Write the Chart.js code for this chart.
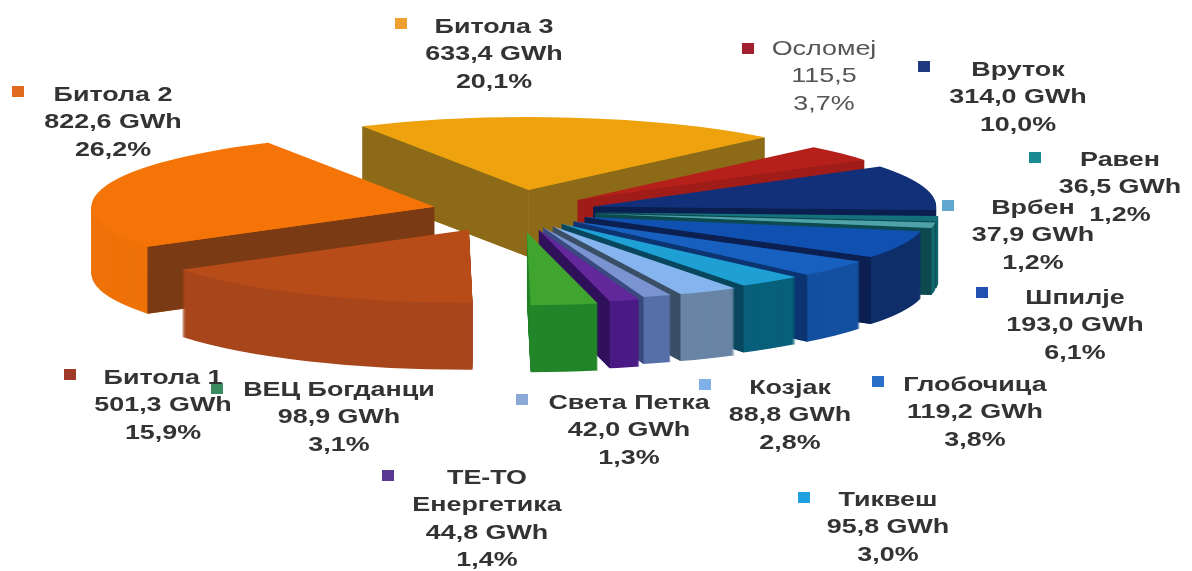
<!DOCTYPE html>
<html><head><meta charset="utf-8">
<style>html,body{margin:0;padding:0;background:#fff}#w{width:1192px;height:571px;position:relative}canvas{filter:blur(0.6px)}</style>
<script src="https://cdn.jsdelivr.net/npm/chart.js@4"></script>
</head><body><div id="w"><canvas id="c" width="1192" height="571"></canvas></div>
<script>
const plants = ["Битола 3","Осломеј","Вруток","Равен","Врбен","Шпилје","Глобочица","Тиквеш","Козјак","Света Петка","ТЕ-ТО Енергетика","ВЕЦ Богданци","Битола 1","Битола 2"];
const gwh = [633.4,115.5,314.0,36.5,37.9,193.0,119.2,95.8,88.8,42.0,44.8,98.9,501.3,822.6];
const valueLabels = ["633,4 GWh","115,5","314,0 GWh","36,5 GWh","37,9 GWh","193,0 GWh","119,2 GWh","95,8 GWh","88,8 GWh","42,0 GWh","44,8 GWh","98,9 GWh","501,3 GWh","822,6 GWh"];
const shares = ["20,1%","3,7%","10,0%","1,2%","1,2%","6,1%","3,8%","3,0%","2,8%","1,3%","1,4%","3,1%","15,9%","26,2%"];

// styling
const topColors  = ["#eea30e","#b5201a","#12307a","#14707c","#4fa3a8","#1050b0","#1760c0","#1fa0d4","#86b4ee","#7a94d2","#62279a","#3fa52e","#b84c18","#f57408"];
const wallColors = ["#b0851e","#7a1a18","#10306e","#12686e","#12686e","#0f2f6a","#1450a0","#08607a","#6a85a5","#5670a8","#4a1a85","#23852a","#a8461c","#ee7208"];
const cutColors  = ["#8d6a18","#a01c18","#0a1f50","#0c4a50","#0c4a50","#0b2050","#0c3470","#07465c","#3a4f66","#3a4a80","#30105a","#14581a","#8a3a14","#7a3a14"];
const markerColors = ["#f0a030","#a02030","#203a80","#1a8a90","#60a8d0","#2050b0","#2a70c8","#20a0e0","#80b0e8","#8aa8d8","#5a3a90","#3a8a60","#a03a28","#e06a20"];
const explode = [99,80,80,80,80,74,75,75,81,81,91,100,100,84];
const paintOrder = [0,1,2,13,3,4,5,6,7,8,9,10,11,12];

// label layout: centre x, first line y, marker x, marker y
const labelX = [494,824,1018,1120,1033,1075,975,888,790,629,487,339,163,113];
const labelY = [27,49,70,160,208,298,385,500,388,403,478,390,378,95];
const markX  = [401,748,924,1035,948,982,878,804,705,522,388,217,70,18];
const markY  = [23,48,66,157,205,292,381,497,384,399,475,388,374,91];

const RADIUS = 200, RX = 343, RY = 73, CX = 516, CY = 211, DEPTH = 67;

const pie3d = {
  id:'pie3d',
  beforeDatasetsDraw(chart){
    const ctx = chart.ctx, arcs = chart.getDatasetMeta(0).data;
    paintOrder.forEach(i=>{
      const a = arcs[i], opt = a.options, sx = RX/a.outerRadius, sy = RY/a.outerRadius;
      const mid=(a.startAngle+a.endAngle)/2, ox=Math.cos(mid)*opt.offset, oy=Math.sin(mid)*opt.offset;
      const drawAt = (d,color)=>{
        ctx.save();
        ctx.translate(CX,CY+d); ctx.scale(sx,sy); ctx.translate(ox-a.x,oy-a.y);
        a.options = Object.assign(Object.create(opt),{backgroundColor:color,borderWidth:0,offset:0});
        a.draw(ctx);
        a.options = opt;
        ctx.restore();
      };
      for(let d=DEPTH;d>=1;d--) drawAt(d,wallColors[i]);
      const P=(r,ang,d)=>[CX+sx*(ox+r*Math.cos(ang)),CY+d+sy*(oy+r*Math.sin(ang))];
      const face=ang=>{
        const p=[P(0,ang,0),P(a.outerRadius,ang,0),P(a.outerRadius,ang,DEPTH),P(0,ang,DEPTH)];
        ctx.fillStyle=cutColors[i];ctx.beginPath();p.forEach((q,k)=>k?ctx.lineTo(q[0],q[1]):ctx.moveTo(q[0],q[1]));ctx.closePath();ctx.fill();
      };
      if(Math.cos(a.startAngle)<-0.05) face(a.startAngle);
      if(Math.cos(a.endAngle)>0.05) face(a.endAngle);
      drawAt(0,topColors[i]);
    });
    return false;
  },
  afterDraw(chart){
    const ctx=chart.ctx;
    plants.forEach((name,i)=>{
      ctx.fillStyle=markerColors[i];
      ctx.fillRect(markX[i]-6,markY[i]-5,12,11);
      const plain = name==="Осломеј";
      const lines = (name==="ТЕ-ТО Енергетика"?["ТЕ-ТО","Енергетика"]:[name]).concat([valueLabels[i],shares[i]]);
      ctx.fillStyle= plain?"#555":"#333";
      ctx.font=(plain?"":"bold ")+"21px 'Liberation Sans'";
      ctx.textAlign="center";ctx.textBaseline="middle";
      lines.forEach((t,k)=>{
        ctx.save();ctx.translate(labelX[i],labelY[i]+k*27.4);ctx.scale(1.28,1);ctx.fillText(t,0,0);ctx.restore();
      });
    });
  }
};

new Chart(document.getElementById('c'),{
  type:'pie',
  data:{labels:plants,datasets:[{data:gwh,backgroundColor:topColors,borderWidth:0,offset:explode.map(u=>u*RADIUS/RX)}]},
  options:{responsive:false,animation:false,rotation:-29,radius:RADIUS,events:[],
    plugins:{legend:{display:false},tooltip:{enabled:false}}},
  plugins:[pie3d]
});
</script></body></html>
